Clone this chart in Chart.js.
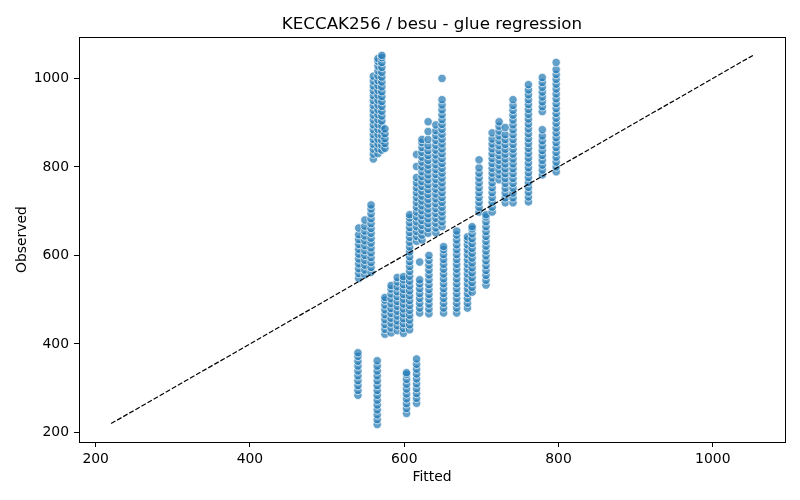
<!DOCTYPE html>
<html>
<head>
<meta charset="utf-8">
<title>KECCAK256 / besu - glue regression</title>
<script src="https://cdn.jsdelivr.net/npm/chart.js@4"></script>
<style>
  html, body { margin: 0; padding: 0; background: #fff; }
  #wrap { width: 800px; height: 500px; }
</style>
</head>
<body>
<div id="wrap"><canvas id="chart" width="800" height="500"></canvas></div>
<script>
// fitted value of each vertical column of points
const fittedCols = [
  540, 565, 603, 616,
  541, 549, 557,
  560, 566, 571, 575,
  575, 583, 591, 599, 607,
  616, 623, 631, 641, 649,
  620, 632, 651, 668, 682, 688,
  697, 706, 714, 723, 731, 741, 761, 779, 797
];

const observedCols = [
  [284, 295, 306, 317, 328, 339, 350, 361, 372, 380],
  [218, 229, 240, 251, 262, 273, 284, 295, 306, 317, 328, 339, 350, 362],
  [243, 254, 265, 276, 287, 298, 309, 320, 331, 335],
  [266, 277, 288, 299, 310, 321, 332, 343, 354, 366],
  [548, 559, 570, 581, 592, 603, 614, 625, 636, 647, 662],
  [556, 567, 578, 589, 600, 611, 622, 633, 644, 655, 666, 680],
  [562, 573, 584, 595, 606, 617, 628, 639, 650, 661, 672, 683, 694, 705, 714],
  [818, 829, 840, 851, 862, 873, 884, 895, 906, 917, 928, 939, 950, 961, 972, 983, 994, 1005],
  [830, 841, 852, 863, 874, 885, 896, 907, 918, 929, 940, 951, 962, 973, 984, 995, 1006, 1017, 1028, 1039, 1045],
  [838, 849, 860, 871, 882, 893, 904, 915, 926, 937, 948, 959, 970, 981, 992, 1003, 1014, 1025, 1036, 1047, 1052],
  [842, 853, 864, 875, 886],
  [422, 433, 444, 455, 466, 477, 488, 499, 505],
  [425, 436, 447, 458, 469, 480, 491, 502, 513, 524, 532],
  [430, 441, 452, 463, 474, 485, 496, 507, 518, 529, 540, 550],
  [424, 435, 446, 457, 468, 479, 490, 501, 512, 523, 534, 545, 552],
  [432, 443, 454, 465, 476, 487, 498, 509, 520, 531, 542, 553, 564, 575, 586, 597, 608, 619, 630, 641, 652, 663, 674, 685, 692],
  [632, 643, 654, 665, 676, 687, 698, 709, 720, 731, 742, 753, 764, 776, 801, 828],
  [635, 646, 657, 668, 679, 690, 701, 712, 723, 734, 745, 756, 767, 778, 789, 800, 811, 822, 833, 844, 855, 862],
  [650, 661, 672, 683, 694, 705, 716, 727, 738, 749, 760, 771, 782, 793, 804, 815, 826, 837, 848, 862, 880, 902],
  [651, 662, 673, 684, 695, 706, 717, 728, 739, 750, 761, 772, 783, 794, 805, 816, 827, 838, 849, 860, 871, 882, 895],
  [665, 676, 687, 698, 709, 720, 731, 742, 753, 764, 775, 786, 797, 808, 819, 830, 841, 852, 863, 874, 885, 896, 907, 918, 929, 940, 952, 1000],
  [470, 481, 492, 503, 514, 525, 536, 545, 585],
  [468, 479, 490, 501, 512, 523, 534, 545, 556, 567, 578, 589, 600],
  [470, 481, 492, 503, 514, 525, 536, 547, 558, 569, 580, 591, 602, 613, 620],
  [470, 481, 492, 503, 514, 525, 536, 547, 558, 569, 580, 591, 602, 613, 624, 635, 646, 655],
  [481, 492, 503, 514, 525, 536, 547, 558, 569, 580, 591, 602, 613, 624, 635, 642],
  [517, 528, 539, 550, 561, 572, 583, 594, 605, 616, 627, 638, 649, 660, 665],
  [698, 709, 720, 731, 742, 753, 764, 775, 786, 798, 816],
  [533, 544, 555, 566, 577, 588, 599, 610, 621, 632, 643, 654, 665, 676, 687, 692],
  [698, 709, 720, 731, 742, 753, 764, 775, 786, 797, 808, 819, 830, 841, 852, 863, 877],
  [771, 782, 793, 804, 815, 826, 837, 848, 859, 870, 881, 892, 902],
  [719, 730, 741, 752, 763, 774, 785, 796, 807, 818, 829, 840, 851, 862, 873, 889],
  [719, 730, 741, 752, 763, 774, 785, 796, 807, 818, 829, 840, 851, 862, 873, 884, 895, 906, 917, 928, 939, 952],
  [721, 732, 743, 754, 765, 776, 787, 798, 809, 820, 831, 842, 853, 864, 875, 886, 897, 908, 919, 930, 941, 952, 963, 974, 986],
  [782, 793, 804, 815, 826, 837, 848, 859, 870, 884, 925, 936, 947, 958, 969, 980, 991, 1002],
  [789, 800, 811, 822, 833, 844, 855, 866, 877, 888, 899, 910, 921, 932, 943, 954, 965, 976, 987, 998, 1009, 1020, 1036]
];

// y = x reference line end points
const identityEnds = [220, 1052];

const xTicks = [200, 400, 600, 800, 1000];
const yTicks = [200, 400, 600, 800, 1000];
const axisRange = [178.4, 1093.6];
const chartTitle = 'KECCAK256 / besu - glue regression';

const points = [];
fittedCols.forEach((fx, i) => {
  observedCols[i].forEach(oy => points.push({ x: fx, y: oy }));
});

const FONT = "'DejaVu Sans', sans-serif";

// white background, full axes box and a title centred over the plot area
const frame = {
  id: 'frame',
  beforeDraw(chart) {
    const c = chart.ctx;
    c.save();
    c.fillStyle = '#fff';
    c.fillRect(0, 0, chart.width, chart.height);
    c.restore();
  },
  afterDraw(chart) {
    const a = chart.chartArea, c = chart.ctx;
    c.save();
    c.strokeStyle = '#000';
    c.lineWidth = 1;
    c.strokeRect(Math.round(a.left) + 0.5, Math.round(a.top) + 0.5,
                 Math.round(a.right - a.left), Math.round(a.bottom - a.top));
    c.fillStyle = '#000';
    c.font = "16.7px " + FONT;
    c.textAlign = 'center';
    c.textBaseline = 'alphabetic';
    c.fillText(chartTitle, (a.left + a.right) / 2, 29);
    c.restore();
  }
};

new Chart(document.getElementById('chart'), {
  type: 'scatter',
  data: {
    datasets: [
      {
        type: 'line',
        data: identityEnds.map(v => ({ x: v, y: v })),
        borderColor: '#000',
        borderWidth: 1.2,
        borderDash: [5, 2],
        pointRadius: 0,
        fill: false,
        order: 0
      },
      {
        data: points,
        backgroundColor: 'rgba(31,119,180,0.7)',
        borderColor: 'rgba(255,255,255,0.7)',
        borderWidth: 1,
        pointRadius: 4.2,
        order: 1
      }
    ]
  },
  options: {
    responsive: false,
    animation: false,
    devicePixelRatio: 1,
    layout: { padding: { left: 0, right: 15, top: 37, bottom: 0 } },
    plugins: {
      legend: { display: false },
      tooltip: { enabled: false },
      title: { display: false }
    },
    scales: {
      x: {
        type: 'linear',
        min: axisRange[0],
        max: axisRange[1],
        afterBuildTicks: s => { s.ticks = xTicks.map(v => ({ value: v })); },
        afterFit: s => { s.height = 58; },
        grid: { drawOnChartArea: false, drawTicks: true, tickLength: 5, color: '#000' },
        border: { display: false },
        ticks: { color: '#000', padding: 4, font: { family: FONT, size: 13.9 },
                 callback: v => String(v) },
        title: { display: true, text: 'Fitted', color: '#000',
                 font: { family: FONT, size: 13.9 }, padding: { top: 0, bottom: 14.6 } }
      },
      y: {
        type: 'linear',
        min: axisRange[0],
        max: axisRange[1],
        afterBuildTicks: s => { s.ticks = yTicks.map(v => ({ value: v })); },
        afterFit: s => { s.width = 79; },
        grid: { drawOnChartArea: false, drawTicks: true, tickLength: 5, color: '#000' },
        border: { display: false },
        ticks: { color: '#000', padding: 5, font: { family: FONT, size: 13.9 },
                 callback: v => String(v) },
        title: { display: true, text: 'Observed', color: '#000',
                 font: { family: FONT, size: 13.9 }, padding: { top: 14, bottom: 0 } }
      }
    }
  },
  plugins: [frame]
});
</script>
</body>
</html>
